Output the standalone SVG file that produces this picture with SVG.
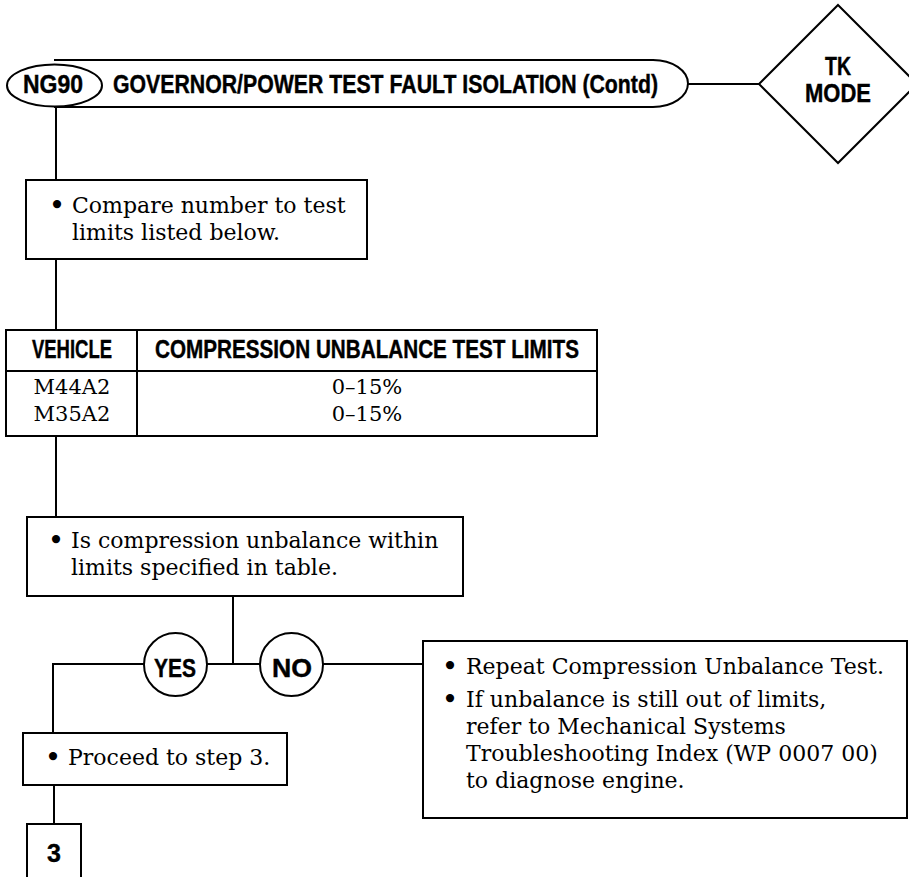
<svg xmlns="http://www.w3.org/2000/svg" width="909" height="877" viewBox="0 0 909 877">
<style>
.ln{fill:none;stroke:#000;stroke-width:2}
.bx{fill:#fff;stroke:#000;stroke-width:2}
.sr{font-family:"DejaVu Serif","Liberation Serif",serif;font-size:22px;fill:#000}
.bu{font-family:"DejaVu Serif","Liberation Serif",serif;font-size:28px;fill:#000;text-anchor:middle}
.sm{font-family:"DejaVu Serif","Liberation Serif",serif;font-size:21px;fill:#000}
.sb{font-family:"Liberation Sans",Arial,sans-serif;font-weight:bold;font-size:25px;fill:#000;stroke:#000;stroke-width:0.4}
.mid{text-anchor:middle}
</style>
<rect width="909" height="877" fill="#fff"/>
<g id="connectors">
<line class="ln" x1="688" y1="84" x2="759" y2="84" stroke-width="3"/>
<line class="ln" x1="56" y1="106" x2="56" y2="180"/>
<line class="ln" x1="56" y1="259" x2="56" y2="330"/>
<line class="ln" x1="56" y1="436" x2="56" y2="517"/>
<line class="ln" x1="233" y1="596" x2="233" y2="664"/>
<line class="ln" x1="207" y1="664" x2="260" y2="664"/>
<polyline class="ln" points="144,664 53,664 53,733"/>
<line class="ln" x1="323" y1="664" x2="423" y2="664"/>
<line class="ln" x1="54" y1="785" x2="54" y2="824"/>
</g>
<g id="header">
<path class="ln" d="M54,60 H653 A35,23.5 0 0 1 653,107 H54"/>
<ellipse class="bx" cx="54.5" cy="85.5" rx="47.5" ry="21"/>
<text class="sb mid" x="53" y="93" textLength="60" lengthAdjust="spacingAndGlyphs">NG90</text>
<text class="sb" x="113" y="93" textLength="545" lengthAdjust="spacingAndGlyphs">GOVERNOR/POWER TEST FAULT ISOLATION (Contd)</text>
</g>
<g id="tk-mode">
<polygon class="bx" points="838,5 917,84 838,163 759,84"/>
<text class="sb mid" x="838" y="75" textLength="26" lengthAdjust="spacingAndGlyphs">TK</text>
<text class="sb mid" x="838" y="102" textLength="66" lengthAdjust="spacingAndGlyphs">MODE</text>
</g>
<g id="compare">
<rect class="bx" x="26" y="180" width="341" height="79"/>
<text class="bu" x="57" y="215">•</text>
<text class="sr" x="72" y="213">Compare number to test</text>
<text class="sr" x="72" y="240">limits listed below.</text>
</g>
<g id="table">
<rect class="bx" x="6" y="330" width="591" height="106"/>
<line class="ln" x1="137" y1="330" x2="137" y2="436"/>
<line class="ln" x1="6" y1="371" x2="597" y2="371"/>
<text class="sb mid" x="72" y="358" font-size="24" textLength="80" lengthAdjust="spacingAndGlyphs">VEHICLE</text>
<text class="sb" x="155" y="358" font-size="24" textLength="424" lengthAdjust="spacingAndGlyphs">COMPRESSION UNBALANCE TEST LIMITS</text>
<text class="sm mid" x="72" y="394">M44A2</text>
<text class="sm mid" x="72" y="421">M35A2</text>
<text class="sm mid" x="367" y="394">0–15%</text>
<text class="sm mid" x="367" y="421">0–15%</text>
</g>
<g id="question">
<rect class="bx" x="27" y="517" width="436" height="79"/>
<text class="bu" x="56" y="550">•</text>
<text class="sr" x="71" y="548">Is compression unbalance within</text>
<text class="sr" x="71" y="575">limits specified in table.</text>
</g>
<g id="yes">
<circle class="bx" cx="175.5" cy="664.5" r="31.5"/>
<text class="sb mid" x="175" y="677" font-size="26" textLength="42" lengthAdjust="spacingAndGlyphs">YES</text>
</g>
<g id="no">
<circle class="bx" cx="291.5" cy="664.5" r="31.5"/>
<text class="sb mid" x="292" y="677" font-size="26" textLength="40" lengthAdjust="spacingAndGlyphs">NO</text>
</g>
<g id="repeat">
<rect class="bx" x="423" y="641" width="484" height="177"/>
<text class="bu" x="450" y="676">•</text>
<text class="sr" x="466" y="674">Repeat Compression Unbalance Test.</text>
<text class="bu" x="450" y="709">•</text>
<text class="sr" x="466" y="707">If unbalance is still out of limits,</text>
<text class="sr" x="466" y="734">refer to Mechanical Systems</text>
<text class="sr" x="466" y="761">Troubleshooting Index (WP 0007 00)</text>
<text class="sr" x="466" y="788">to diagnose engine.</text>
</g>
<g id="proceed">
<rect class="bx" x="23" y="733" width="264" height="52"/>
<text class="bu" x="53" y="767">•</text>
<text class="sr" x="68" y="765">Proceed to step 3.</text>
</g>
<g id="step3">
<path class="bx" d="M27,880 V824 H81 V880"/>
<text class="sb mid" x="54" y="862" font-size="28">3</text>
</g>
</svg>
